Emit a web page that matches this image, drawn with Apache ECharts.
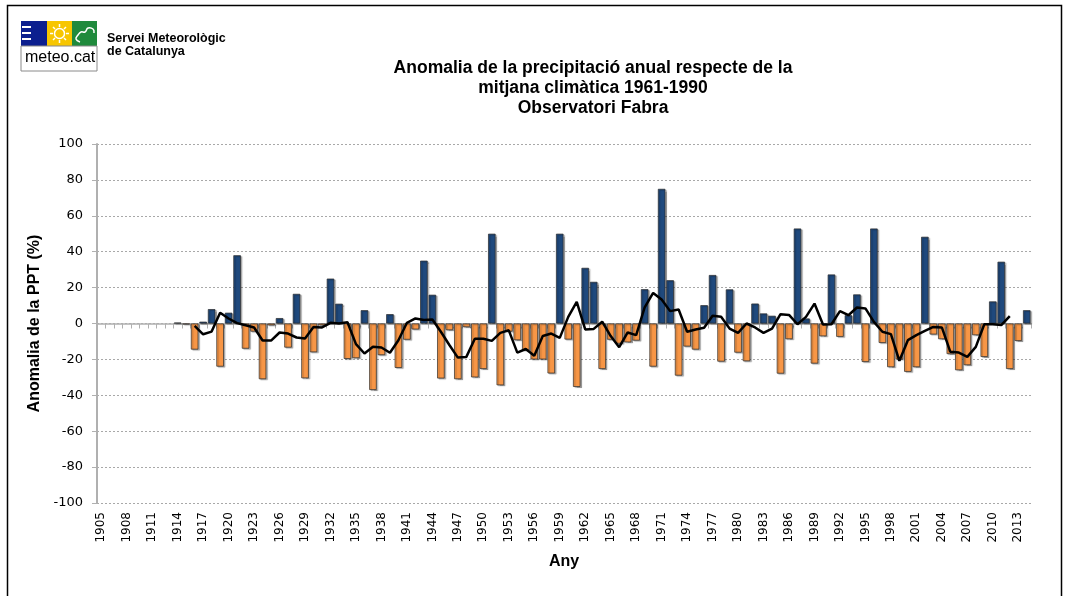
<!DOCTYPE html>
<html>
<head>
<meta charset="utf-8">
<script src="https://cdn.jsdelivr.net/npm/echarts@6/dist/echarts.min.js"></script>
<style>
html,body{margin:0;padding:0;background:#fff;}
#chart{width:1069px;height:596px;}
</style>
</head>
<body>
<div id="chart"></div>
<script>
// Years (categories)
const years = [];
for (let y = 1905; y <= 2014; y++) years.push(String(y));

// Annual precipitation anomaly (%), 1905..2014 (null = no data)
const anomaly = [
  null, null, null, null, null, null, null, null, null,           // 1905-1913
  0.5, -0.5, -14.5, 1, 8, -24, 6, 38, -14, -4.5,                  // 1914-1923
  -31, -1, 3, -13.4, 16.5, -30.5, -16, -1, 25, 11,                // 1924-1933
  -19.7, -19.3, 7.4, -37, -17.6, 5.2, -24.7, -9, -3.3, 35,        // 1934-1943
  16, -30.6, -3.7, -31, -2, -30, -25.3, 50, -34.4, -4.5,          // 1944-1953
  -9.3, -15, -20, -20, -27.8, 50, -8.9, -35.3, 31, 23.2,          // 1954-1963
  -25.3, -9, -11.2, -10.5, -9.5, 19.1, -24, 75, 24.1, -29,        // 1964-1973
  -12.8, -14.5, 10.2, 27, -21.2, 19, -16.2, -21, 11.1, 5.6,       // 1974-1983
  4.3, -27.9, -8.7, 52.9, 2.8, -22.3, -7.1, 27.3, -7.4, 4.6,      // 1984-1993
  16.2, -21.4, 52.9, -10.8, -24.3, -20, -26.9, -24.3, 48.3, -6.1, // 1994-2003
  -8.7, -17, -26, -23.2, -6.5, -18.6, 12.3, 34.4, -25.3, -9.7,    // 2004-2013
  7.4                                                             // 2014
];

// Smoothed anomaly (moving average), 1905..2014
const smoothed = [
  null, null, null, null, null, null, null, null, null, null, null, // 1905-1915
  -1.3, -6, -4.5, 6, 2.8, 0.2, -1, -2.2, -9.5, -9.5,              // 1916-1925
  -5, -5.6, -7.8, -8.4, -1.9, -2.2, 0.4, 0, 0.7, -11.5,           // 1926-1935
  -16.7, -13, -13.4, -16.3, -9.3, 0.4, 2.8, 1.9, 2.2, -4.6,       // 1936-1945
  -12, -19, -18.6, -8.5, -8.5, -9.7, -5.2, -3.8, -16.2, -14.2,    // 1946-1955
  -18, -7, -5.6, -8, 3.7, 12, -3.3, -3, 1, -7,                    // 1956-1965
  -13.2, -5, -6.5, 9, 17, 13.4, 6.9, 7.8, -4.6, -3.3,             // 1966-1975
  -2.4, 4.3, 3.7, -2.8, -5.2, 0, -2.2, -5.2, -2.8, 5.2,           // 1976-1985
  4.8, -0.4, 3.7, 11.1, -0.6, -0.4, 6.9, 4.6, 8.9, 8.4,           // 1986-1995
  0.9, -4.6, -5.9, -20.8, -9.3, -6.5, -4.1, -1.9, -2.2, -15.8,    // 1996-2005
  -16.2, -18.6, -13, -0.4, -0.4, -0.9, 4.1, null, null            // 2006-2014
];

const titleLines = [
  'Anomalia de la precipitació anual respecte de la',
  'mitjana climàtica 1961-1990',
  'Observatori Fabra'
];

const chart = echarts.init(document.getElementById('chart'), null, {renderer: 'canvas'});

const tickFont = 'DejaVu Sans';
const boldFont = 'Liberation Sans';
const W = {stroke: '#fff', lineWidth: 1.5};

chart.setOption({
  animation: false,
  backgroundColor: '#ffffff',
  title: {
    text: titleLines.join('\n'),
    left: 588,
    top: 53,
    textAlign: 'center',
    textStyle: {
      fontFamily: boldFont, fontWeight: 'bold', fontSize: 17.5, lineHeight: 20, color: '#000'
    }
  },
  grid: {left: 97, right: 38, top: 144, bottom: 93, containLabel: false},
  xAxis: [
    {
      type: 'category',
      data: years,
      axisLine: {onZero: true, lineStyle: {color: '#b0b0b0', width: 1.5}},
      axisTick: {show: true, interval: 0, length: 5, lineStyle: {color: '#b0b0b0'}},
      axisLabel: {show: false},
      splitLine: {show: false}
    },
    {
      type: 'category',
      data: years,
      position: 'bottom',
      axisLine: {show: false, onZero: false},
      axisTick: {show: false},
      axisLabel: {
        interval: 2, rotate: 90, margin: 9,
        fontFamily: tickFont, fontSize: 12, color: '#000'
      },
      name: 'Any',
      nameLocation: 'middle',
      nameGap: 51,
      nameTextStyle: {fontFamily: boldFont, fontWeight: 'bold', fontSize: 16, color: '#000'}
    }
  ],
  yAxis: {
    type: 'value',
    min: -100, max: 100, interval: 20,
    axisLine: {show: true, lineStyle: {color: '#b0b0b0', width: 2}},
    axisTick: {show: true, length: 5, lineStyle: {color: '#b0b0b0'}},
    axisLabel: {fontFamily: tickFont, fontSize: 13, color: '#000', margin: 14},
    splitLine: {show: true, lineStyle: {color: '#a8a8a8', type: [2, 2], width: 1}},
    name: 'Anomalia de la PPT (%)',
    nameLocation: 'middle',
    nameGap: 40,
    nameTextStyle: {fontFamily: boldFont, fontWeight: 'bold', fontSize: 16, color: '#000'}
  },
  series: [
    {
      type: 'bar',
      xAxisIndex: 0,
      data: anomaly,
      barCategoryGap: '12%',
      itemStyle: {
        color: function (p) { return p.value >= 0 ? '#1f497d' : '#f79646'; },
        borderColor: '#2a2a2a',
        borderWidth: 0.7,
        shadowColor: 'rgba(0,0,0,0.3)',
        shadowOffsetX: 1.5,
        shadowOffsetY: 1,
        shadowBlur: 1
      }
    },
    {
      type: 'line',
      xAxisIndex: 0,
      data: smoothed,
      showSymbol: false,
      symbol: 'none',
      connectNulls: false,
      lineStyle: {color: '#000', width: 2.5},
      z: 5
    }
  ],
  graphic: [
    {type: 'rect', shape: {x: 7.5, y: 5.5, width: 1054, height: 620},
     style: {fill: 'none', stroke: '#000', lineWidth: 1.5}, silent: true},
    {type: 'rect', shape: {x: 21, y: 21, width: 26, height: 25}, style: {fill: '#0c1f8f'}},
    {type: 'rect', shape: {x: 22, y: 26, width: 9, height: 2}, style: {fill: '#ffffff'}},
    {type: 'rect', shape: {x: 22, y: 32, width: 9, height: 2}, style: {fill: '#ffffff'}},
    {type: 'rect', shape: {x: 22, y: 38, width: 9, height: 2}, style: {fill: '#ffffff'}},
    {type: 'rect', shape: {x: 47, y: 21, width: 25, height: 25}, style: {fill: '#f7c600'}},
    {type: 'circle', shape: {cx: 59.5, cy: 33.5, r: 5}, style: {fill: 'none', stroke: '#ffffff', lineWidth: 1.5}},
    {type: 'line', shape: {x1: 59.5, y1: 24, x2: 59.5, y2: 27}, style: W},
    {type: 'line', shape: {x1: 59.5, y1: 40, x2: 59.5, y2: 43}, style: W},
    {type: 'line', shape: {x1: 50, y1: 33.5, x2: 53, y2: 33.5}, style: W},
    {type: 'line', shape: {x1: 66, y1: 33.5, x2: 69, y2: 33.5}, style: W},
    {type: 'line', shape: {x1: 53, y1: 27, x2: 55, y2: 29}, style: W},
    {type: 'line', shape: {x1: 66, y1: 27, x2: 64, y2: 29}, style: W},
    {type: 'line', shape: {x1: 53, y1: 40, x2: 55, y2: 38}, style: W},
    {type: 'line', shape: {x1: 66, y1: 40, x2: 64, y2: 38}, style: W},
    {type: 'rect', shape: {x: 72, y: 21, width: 25, height: 25}, style: {fill: '#1f8a3c'}},
    {type: 'polyline', shape: {points: [[80, 42], [76, 39], [78, 35], [81, 32], [85, 32], [88, 28], [93, 29], [94, 33]], smooth: 0.5},
     style: {fill: 'none', stroke: '#fff', lineWidth: 1.5}},
    {type: 'rect', shape: {x: 21, y: 46, width: 76, height: 25}, style: {fill: '#fff', stroke: '#8a8a8a', lineWidth: 1}},
    {type: 'text', left: 25, top: 50, style: {text: 'meteo.cat', fontFamily: 'Liberation Sans', fontSize: 16, fill: '#000'}},
    {type: 'text', left: 107, top: 32, style: {text: 'Servei Meteorològic\nde Catalunya', fontFamily: 'Liberation Sans', fontWeight: 'bold', fontSize: 12.5, lineHeight: 13, fill: '#000'}}
  ]
});
</script>
</body>
</html>
